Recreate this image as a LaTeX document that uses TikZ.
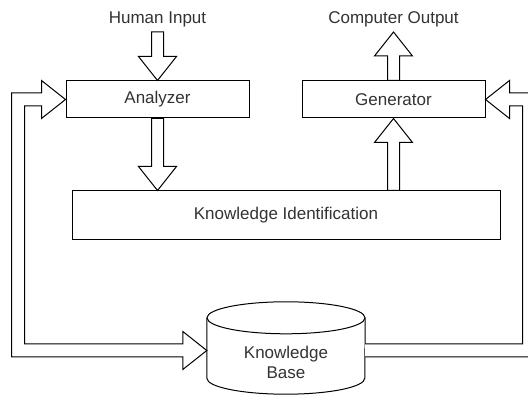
\documentclass[tikz,border=0pt]{standalone}
\usepackage{fontspec}
\setmainfont{Liberation Sans}
\usetikzlibrary{calc}
\definecolor{txtgray}{HTML}{333333}
\newcommand\vblock[2]{\draw[blk] let \p1=(#1), \p2=(#2), \n1={sign(\y2-\y1)*24} in
  (\x1-6pt,\y1) -- (\x1-6pt,\y2-\n1*1pt) -- (\x1-19pt,\y2-\n1*1pt) -- (\x1,\y2)
  -- (\x1+19pt,\y2-\n1*1pt) -- (\x1+6pt,\y2-\n1*1pt) -- (\x1+6pt,\y1) -- cycle;}
\begin{document}
\begin{tikzpicture}[x=1pt,y=1pt,
  line/.style={draw=black, line width=1pt},
  blk/.style={draw=black, fill=white, line width=1pt, line join=miter},
  txt/.style={text=txtgray, font=\fontsize{17}{20}\selectfont},
  box/.style={line, rectangle, fill=white, inner sep=0pt, txt}]
\useasboundingbox (0,0) rectangle (528,396);
\clip (0,0) rectangle (528,396);
\fill[white] (0,0) rectangle (528,396);

% boxes
\node[box, minimum width=183pt, minimum height=37pt] (analyzer) at (157.5,296.5) {Analyzer};
\node[box, minimum width=183pt, minimum height=37pt] (generator) at (393.5,296.5) {Generator};
\node[box, minimum width=428pt, minimum height=49pt] (ki) at (286,180.5) {Knowledge Identification};

% cylinder
\node[draw=none, minimum width=158pt, minimum height=92pt, inner sep=0pt] (kb) at (286,48) {};
\draw[line, fill=white] let \p1=(kb.north west), \p2=(kb.south east) in
  (\x1,\y1-16pt) -- (\x1,\y2+16pt) arc[start angle=180, end angle=360, x radius=79pt, y radius=16pt]
  -- (\x2,\y1-16pt);
\draw[line] ($(kb.north)+(0,-16)$) ellipse [x radius=79pt, y radius=16pt];
\node[txt, align=center] (kbtext) at ($(kb.center)+(0,-14)$) {Knowledge\\Base};

% input / output labels
\node[txt] (hin) at (157.5,377) {Human Input};
\coordinate (hinA) at (157.5,364);
\node[txt] (cout) at (393.5,377) {Computer Output};
\coordinate (coutA) at (393.5,364);

% vertical block arrows
\vblock{hinA}{analyzer.north}
\vblock{analyzer.south}{ki.north}
\vblock{ki.north -| generator.south}{generator.south}
\vblock{generator.north}{coutA}

% left loop (double headed)
\draw[blk] let \p1=(analyzer.west), \p2=(kb.west) in
  (\x1,\y1) -- (\x1-24pt,\y1+19pt) -- (\x1-24pt,\y1+6.5pt) -- (11.5,\y1+6.5pt)
  -- (11.5,\y2-9pt) -- (\x2-24pt,\y2-9pt) -- (\x2-24pt,\y2-21.5pt) -- (\x2,\y2-2.5pt)
  -- (\x2-24pt,\y2+16.5pt) -- (\x2-24pt,\y2+4pt) -- (24.5,\y2+4pt)
  -- (24.5,\y1-6.5pt) -- (\x1-24pt,\y1-6.5pt) -- (\x1-24pt,\y1-19pt) -- cycle;

% right loop
\draw[blk] let \p1=(generator.east), \p2=(kb.east) in
  (\x2,\y2+4pt) -- (522.5,\y2+4pt) -- (522.5,\y1-6.5pt) -- (\x1+24pt,\y1-6.5pt)
  -- (\x1+24pt,\y1-19pt) -- (\x1,\y1) -- (\x1+24pt,\y1+19pt) -- (\x1+24pt,\y1+6.5pt)
  -- (535.5,\y1+6.5pt) -- (535.5,\y2-9pt) -- (\x2,\y2-9pt);
\end{tikzpicture}
\end{document}
